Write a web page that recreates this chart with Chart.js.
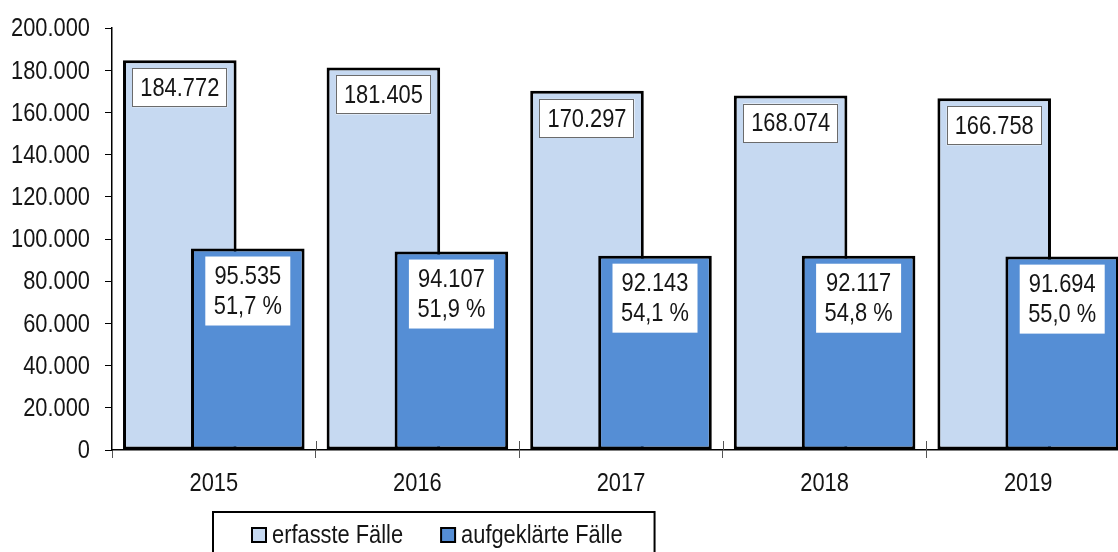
<!DOCTYPE html>
<html>
<head>
<meta charset="utf-8">
<script src="https://cdn.jsdelivr.net/npm/chart.js@4"></script>
<style>
  html, body { margin: 0; padding: 0; background: #fff; overflow: hidden; }
  #wrap { width: 1118px; height: 552px; overflow: hidden; }
</style>
</head>
<body>
<div id="wrap"><canvas id="mChart" width="1132" height="552"></canvas></div>
<script>
const years = ['2015', '2016', '2017', '2018', '2019'];
const erfasst = [184772, 181405, 170297, 168074, 166758];
const aufgeklaert = [95535, 94107, 92143, 92117, 91694];
const quote = ['51,7 %', '51,9 %', '54,1 %', '54,8 %', '55,0 %'];
const seriesNames = ['erfasste Fälle', 'aufgeklärte Fälle'];

// Arial-Narrow look: Liberation Sans squeezed horizontally
const FONT = "'Liberation Sans', Arial, sans-serif";
const SQUEEZE = 0.84;
const TXT = '#151515';

function fmt(n) {
    return String(Math.round(n)).replace(/\B(?=(\d{3})+(?!\d))/g, '.');
}

function narrowText(ctx, text, x, y, align) {
    ctx.save();
    ctx.translate(x, y);
    ctx.scale(SQUEEZE, 1);
    ctx.textAlign = align || 'center';
    ctx.textBaseline = 'middle';
    ctx.fillText(text, 0, 0);
    ctx.restore();
}

function drawLabels(chart) {
    const ctx = chart.ctx;
    ctx.save();
    ctx.font = '26px ' + FONT;
    chart.getDatasetMeta(0).data.forEach((bar, i) => {
        const w = 95, h = 39;
        const x = bar.x - w / 2, y = bar.y + 8;
        ctx.fillStyle = '#fff';
        ctx.fillRect(x, y, w, h);
        ctx.strokeStyle = '#6b6b6b';
        ctx.lineWidth = 1;
        ctx.strokeRect(Math.round(x) + 0.5, Math.round(y) + 0.5, w - 1, h - 1);
        ctx.fillStyle = TXT;
        narrowText(ctx, fmt(erfasst[i]), bar.x, y + h / 2 + 1);
    });
    chart.getDatasetMeta(1).data.forEach((bar, i) => {
        const w = 85, h = 69;
        const x = bar.x - w / 2, y = bar.y + 8;
        ctx.fillStyle = '#fff';
        ctx.fillRect(x, y, w, h);
        ctx.fillStyle = TXT;
        narrowText(ctx, fmt(aufgeklaert[i]), bar.x, y + h / 2 - 14);
        narrowText(ctx, quote[i], bar.x, y + h / 2 + 16);
    });
    ctx.restore();
}

// light bars first, dark bars on top of them, then the value boxes
const drawOrder = {
    id: 'drawOrder',
    beforeDatasetsDraw(chart) {
        chart.getDatasetMeta(0).controller.draw();
        chart.getDatasetMeta(1).controller.draw();
        drawLabels(chart);
        return false;
    }
};

// tick labels, category ticks crossing the x axis, framed legend
const extras = {
    id: 'extras',
    afterDraw(chart) {
        const ctx = chart.ctx;
        const xs = chart.scales.x;
        const ys = chart.scales.y;
        const bottom = chart.chartArea.bottom;
        ctx.save();
        ctx.strokeStyle = '#555';
        ctx.lineWidth = 1;
        for (let i = 1; i < years.length; i++) {
            const px = Math.round(xs.getPixelForValue(i - 0.5)) + 0.5;
            ctx.beginPath();
            ctx.moveTo(px, bottom - 9);
            ctx.lineTo(px, bottom);
            ctx.stroke();
        }

        ctx.font = '26px ' + FONT;
        ctx.fillStyle = TXT;
        ys.ticks.forEach((t, i) => {
            narrowText(ctx, fmt(t.value), ys.right - 22, ys.getPixelForTick(i) + 1, 'right');
        });
        xs.ticks.forEach((t, i) => {
            narrowText(ctx, years[i], xs.getPixelForTick(i), bottom + 34, 'center');
        });

        // legend
        const boxL = 213, boxT = 512;
        let cx = 252;
        const cy = 535;
        const items = [];
        chart.data.datasets.forEach(ds => {
            const tw = ctx.measureText(ds.label).width * SQUEEZE;
            items.push({ x: cx, ds, tw });
            cx += 21 + tw + 37;
        });
        const last = items[items.length - 1];
        const boxR = last.x + 21 + last.tw + 31;
        ctx.lineWidth = 2;
        ctx.strokeStyle = '#000';
        ctx.strokeRect(boxL, boxT, boxR - boxL, 60);
        items.forEach(it => {
            ctx.fillStyle = it.ds.backgroundColor;
            ctx.fillRect(it.x, cy - 7, 14, 14);
            ctx.lineWidth = 2;
            ctx.strokeStyle = '#000';
            ctx.strokeRect(it.x, cy - 7, 14, 14);
            ctx.fillStyle = TXT;
            narrowText(ctx, it.ds.label, it.x + 20, cy + 1, 'left');
        });
        ctx.restore();
    }
};

const ct = document.getElementById('mChart').getContext('2d');

const mChart = new Chart(ct, {
    type: 'bar',
    data: {
        labels: years,
        datasets: [{
            label: seriesNames[0],
            data: erfasst,
            backgroundColor: '#C6D9F1',
            borderColor: '#000',
            borderWidth: 3,
            borderSkipped: false
        }, {
            label: seriesNames[1],
            data: aufgeklaert,
            backgroundColor: '#558ED5',
            borderColor: '#000',
            borderWidth: 3,
            borderSkipped: false
        }]
    },
    options: {
        responsive: false,
        animation: false,
        categoryPercentage: 0.668,
        barPercentage: 1.67,
        layout: { padding: { top: 27, right: 2, left: 0, bottom: 0 } },
        plugins: {
            legend: { display: false },
            tooltip: { enabled: false }
        },
        scales: {
            x: {
                afterFit(scale) { scale.height = 102; },
                grid: {
                    offset: true,
                    drawOnChartArea: false,
                    drawTicks: true,
                    tickLength: 8,
                    color: '#555'
                },
                border: { color: '#000', width: 1.5 },
                ticks: {
                    color: 'rgba(0,0,0,0)',
                    padding: 10,
                    font: { family: FONT, size: 22 }
                }
            },
            y: {
                min: 0,
                max: 200000,
                afterFit(scale) { scale.width = 112; },
                grid: {
                    drawOnChartArea: false,
                    drawTicks: true,
                    tickLength: 7,
                    color: '#000'
                },
                border: { color: '#000', width: 1.5 },
                ticks: {
                    stepSize: 20000,
                    color: 'rgba(0,0,0,0)',
                    padding: 15,
                    font: { family: FONT, size: 22 },
                    callback: v => fmt(v)
                }
            }
        }
    },
    plugins: [drawOrder, extras]
});
</script>
</body>
</html>
